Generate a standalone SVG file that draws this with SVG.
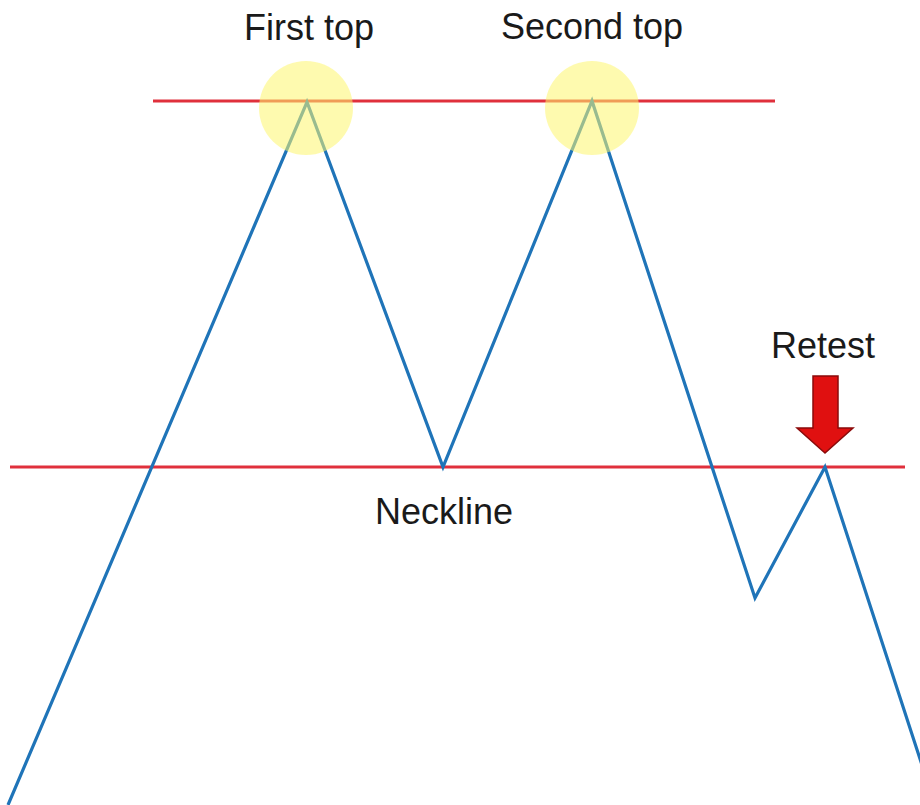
<svg xmlns="http://www.w3.org/2000/svg" width="920" height="805" viewBox="0 0 920 805">
<style>
.lbl{font-family:"Liberation Sans",Arial,sans-serif;font-size:36px;fill:#1a1a1a;text-anchor:middle}
.red{stroke:#e0303c;stroke-width:3;fill:none}
.blue{stroke:#1f74b8;stroke-width:3.2;fill:none;stroke-linejoin:miter}
.hl{fill:#fdf66e;opacity:0.55}
</style>
<rect width="920" height="805" fill="#ffffff"/>
<g id="connectors">
<line class="red" x1="153" y1="101" x2="775" y2="101"/>
<line class="red" x1="10" y1="467" x2="905" y2="467"/>
<polyline class="blue" points="8,805 307,102 443,467 592,101 755,598 825,467 922,765"/>
</g>
<g id="first-top">
<circle class="hl" cx="306" cy="108" r="47"/>
<text class="lbl" x="309" y="40">First top</text>
</g>
<g id="second-top">
<circle class="hl" cx="592" cy="108" r="47"/>
<text class="lbl" x="592" y="39">Second top</text>
</g>
<g id="neckline">
<text class="lbl" x="444" y="524">Neckline</text>
</g>
<g id="retest">
<text class="lbl" x="823" y="358">Retest</text>
<polygon points="813,376 838,376 838,428 853,428 825,453 797,428 813,428" fill="#e01010" stroke="#8a0a0a" stroke-width="1.5"/>
</g>
</svg>
